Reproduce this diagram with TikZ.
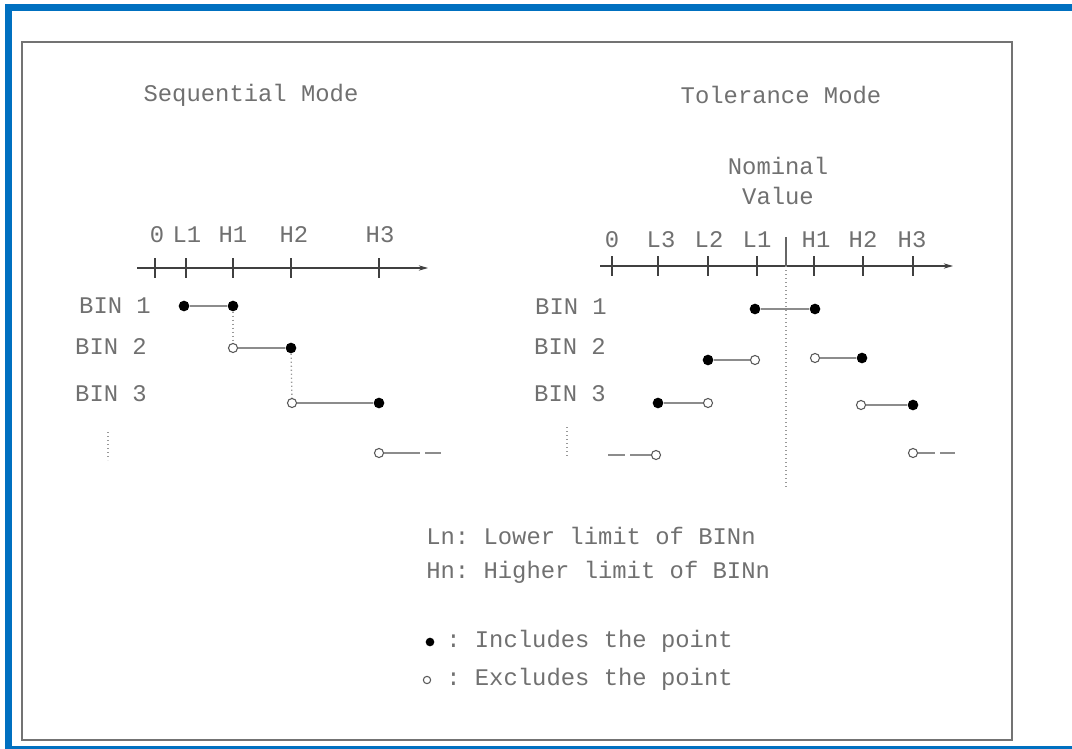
\documentclass[tikz,border=0pt]{standalone}
\usepackage{fontspec}
\setmonofont{Liberation Mono}
\usetikzlibrary{arrows.meta}
\definecolor{framecol}{HTML}{0070C0}
\definecolor{txtcol}{HTML}{707070}

\begin{document}
\begin{tikzpicture}[x=0.75pt,y=-0.75pt]
\tikzset{font=\ttfamily\fontsize{17.9}{21}\selectfont}
\tikzset{lbl/.style={text=txtcol, inner sep=0pt}}
\tikzset{incl/.style={circle, fill=black, inner sep=0pt, minimum size=8pt}}
\tikzset{excl/.style={circle, draw=black!65, fill=white, line width=0.8pt, inner sep=0pt, minimum size=6.8pt}}
\tikzset{seg/.style={draw=black!45, line width=1.3pt}}
\tikzset{guide/.style={draw=black!40, dotted, line width=1pt}}
\tikzset{axis/.style={draw=black!75, line width=0.8pt, -{Stealth[length=7pt,width=4pt]}}}
\tikzset{tick/.style={draw=black!75, line width=0.8pt}}
\useasboundingbox (0,0) rectangle (1072,749);
\fill[framecol] (5,4) rectangle (1072,11);
\fill[framecol] (5,4) rectangle (12,749);
\fill[framecol] (12,746) rectangle (1072,749);
\draw[black!55, line width=2.2pt] (22,42) rectangle (1012,740);
\node[lbl] (seqtitle) at (251,95) {Sequential Mode};
\node[lbl] (toltitle) at (781,95) {Tolerance Mode};
\node[lbl] (nom) at (778,166) {Nominal};
\node[lbl] (val) at (778,196) {Value};
\coordinate (s-start) at (137,268);
\coordinate (s-end) at (428,268);
\draw[axis] (s-start) -- (s-end);
\foreach \x/\n/\lx in {155/0/157, 186/L1/187, 233/H1/233, 291/H2/294, 379/H3/380}{
  \draw[tick] (\x,258) -- (\x,278);
  \node[lbl] (s-\n) at (\lx,235) {\n};
}
\coordinate (t-start) at (600,266);
\coordinate (t-end) at (953,266);
\draw[axis] (t-start) -- (t-end);
\foreach \x/\n/\lx in {612/0/612, 658/L3/661, 708/L2/709, 757/L1/757, 814/H1/816, 863/H2/863, 913/H3/912}{
  \draw[tick] (\x,256) -- (\x,276);
  \node[lbl] (t-\n) at (\lx,240) {\n};
}
\coordinate (nomtop) at (786,237);
\coordinate (nomaxis) at (786,266);
\coordinate (nombot) at (786,488);
\draw[black!60, line width=0.9pt] (nomtop) -- (nomaxis);
\draw[guide] (nomaxis) -- (nombot);
\node[lbl] (s-bin1) at (115,306) {BIN 1};
\node[lbl] (s-bin2) at (111,347) {BIN 2};
\node[lbl] (s-bin3) at (111,394) {BIN 3};
\node[lbl] (t-bin1) at (571,307) {BIN 1};
\node[lbl] (t-bin2) at (570,347) {BIN 2};
\node[lbl] (t-bin3) at (570,394) {BIN 3};
\node[incl] (s1a) at (184,306) {};
\node[incl] (s1b) at (233,306) {};
\node[excl] (s2a) at (233,348) {};
\node[incl] (s2b) at (291,348) {};
\node[excl] (s3a) at (292,403) {};
\node[incl] (s3b) at (379,403) {};
\node[excl] (s4a) at (379,453) {};
\coordinate (s4b) at (420,453);
\coordinate (s4c) at (425,453);
\coordinate (s4d) at (441,453);
\draw[seg] (s1a) -- (s1b);
\draw[seg] (s2a) -- (s2b);
\draw[seg] (s3a) -- (s3b);
\draw[seg] (s4a) -- (s4b);
\draw[seg] (s4c) -- (s4d);
\draw[guide] (s1b) -- (s2a);
\draw[guide] (s2b) -- (s3a);
\coordinate (s-dot1) at (108,432);
\coordinate (s-dot2) at (108,460);
\draw[guide] (s-dot1) -- (s-dot2);
\node[incl] (t1a) at (755,309) {};
\node[incl] (t1b) at (815,309) {};
\node[incl] (t2a) at (708,360) {};
\node[excl] (t2b) at (755,360) {};
\node[excl] (t2c) at (815,358) {};
\node[incl] (t2d) at (862,358) {};
\node[incl] (t3a) at (658,403) {};
\node[excl] (t3b) at (708,403) {};
\node[excl] (t3c) at (861,405) {};
\node[incl] (t3d) at (913,405) {};
\coordinate (t4a) at (608,455);
\coordinate (t4b) at (625,455);
\coordinate (t4c) at (630,455);
\node[excl] (t4d) at (656,455) {};
\node[excl] (t5a) at (913,453) {};
\coordinate (t5b) at (935,453);
\coordinate (t5c) at (940,453);
\coordinate (t5d) at (955,453);
\draw[seg] (t1a) -- (t1b);
\draw[seg] (t2a) -- (t2b);
\draw[seg] (t2c) -- (t2d);
\draw[seg] (t3a) -- (t3b);
\draw[seg] (t3c) -- (t3d);
\draw[seg] (t4a) -- (t4b);
\draw[seg] (t4c) -- (t4d);
\draw[seg] (t5a) -- (t5b);
\draw[seg] (t5c) -- (t5d);
\coordinate (t-dot1) at (567,427);
\coordinate (t-dot2) at (567,457);
\draw[guide] (t-dot1) -- (t-dot2);
\node[lbl, anchor=west] (lowtxt) at (426,536) {Ln: Lower limit of BINn};
\node[lbl, anchor=west] (hightxt) at (426,572) {Hn: Higher limit of BINn};
\node[incl, minimum size=6.5pt] (keyin) at (430,642) {};
\node[excl, minimum size=5.5pt] (keyex) at (427,680) {};
\node[lbl, anchor=west] (intxt) at (446,641) {: Includes the point};
\node[lbl, anchor=west] (extxt) at (446,679) {: Excludes the point};
\end{tikzpicture}
\end{document}
